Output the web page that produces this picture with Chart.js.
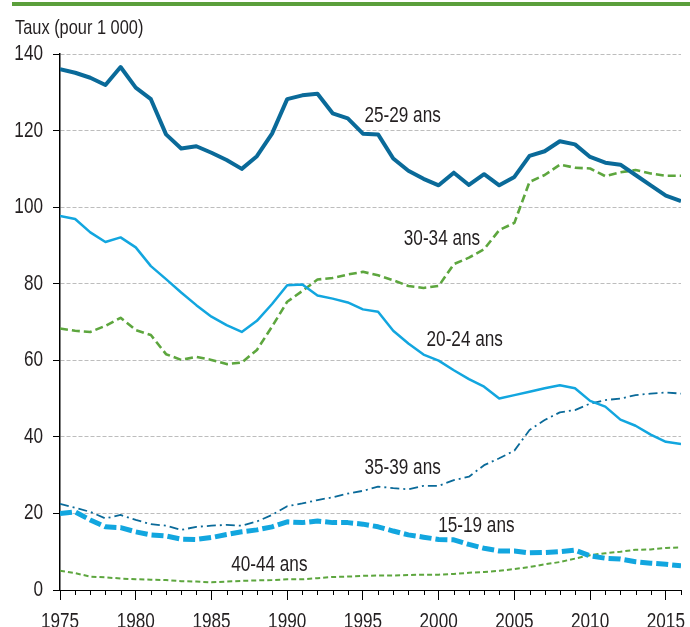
<!DOCTYPE html>
<html>
<head>
<meta charset="utf-8">
<script src="https://cdn.jsdelivr.net/npm/chart.js@4/dist/chart.umd.min.js"></script>
<style>
html,body{margin:0;padding:0;background:#fff;}
#wrap{position:relative;width:690px;height:627px;}
</style>
</head>
<body>
<div id="wrap"><canvas id="c" width="690" height="627"></canvas></div>
<script>
const years = [1975,1976,1977,1978,1979,1980,1981,1982,1983,1984,1985,1986,1987,1988,1989,1990,1991,1992,1993,1994,1995,1996,1997,1998,1999,2000,2001,2002,2003,2004,2005,2006,2007,2008,2009,2010,2011,2012,2013,2014,2015,2016];

const r1519 = [20.0,20.4,18.3,16.5,16.3,15.2,14.4,14.1,13.3,13.2, 13.7,14.5,15.2,15.7,16.5,17.8,17.6,18.0,17.6,17.6, 17.2,16.5,15.4,14.4,13.8,13.2,13.1,11.9,10.9,10.2, 10.2,9.7,9.8,10.0,10.4,8.9,8.3,8.1,7.4,7.0, 6.7,6.3];
const r2024 = [97.7,96.9,93.4,90.9,92.1,89.5,84.6,81.2,77.7,74.4, 71.4,69.2,67.4,70.3,74.7,79.6,79.8,76.9,76.1,75.1, 73.3,72.7,67.7,64.4,61.5,59.9,57.4,55.1,53.1,50.0, 50.9,51.8,52.7,53.5,52.7,49.4,47.9,44.5,42.9,40.6, 38.7,38.1];
const r2529 = [136.0,135.1,133.8,131.9,136.6,131.2,128.2,119.0,115.3,115.9, 114.2,112.3,110.0,113.3,119.2,128.2,129.2,129.6,124.5,123.2, 119.2,119.0,112.7,109.5,107.4,105.7,109.0,105.8,108.6,105.7, 107.9,113.4,114.6,117.2,116.4,113.1,111.6,111.1,108.4,105.7, 103.0,101.6];
const r3034 = [68.3,67.7,67.4,69.0,71.1,67.9,66.6,61.6,60.1,60.9, 60.1,59.0,59.4,62.7,68.8,75.3,78.1,81.1,81.5,82.4, 83.1,82.2,80.9,79.4,78.9,79.4,85.1,86.8,89.0,94.0, 95.9,106.6,108.4,111.1,110.3,110.1,108.1,109.1,109.7,108.8, 108.2,108.2];
const r3539 = [22.5,21.5,20.4,18.7,19.6,18.3,17.2,16.8,15.7,16.5, 16.8,17.0,16.8,17.9,19.6,21.9,22.6,23.5,24.2,25.2, 25.9,27.0,26.6,26.3,27.2,27.2,28.7,29.6,32.6,34.4, 36.4,41.8,44.4,46.4,47.0,48.7,49.6,50.0,50.9,51.3, 51.6,51.3];
const r4044 = [5.0,4.4,3.5,3.3,3.0,2.8,2.7,2.6,2.3,2.2, 2.0,2.2,2.4,2.5,2.6,2.8,2.8,3.1,3.4,3.5, 3.7,3.8,3.8,3.9,4.0,4.0,4.2,4.5,4.7,5.0, 5.5,6.0,6.7,7.3,8.2,9.1,9.6,10.0,10.5,10.6, 11.0,11.1];

const yTicks = [0,20,40,60,80,100,120,140];
const xTickLabels = [1975,1980,1985,1990,1995,2000,2005,2010,2015];
const axisTitle = "Taux (pour 1 000)";

const seriesLabels = ["25-29 ans","30-34 ans","20-24 ans","35-39 ans","15-19 ans","40-44 ans"];
const labelYears   = [1995.1, 1997.7, 1999.2, 1995.1, 1999.97, 1986.3];
const labelValues  = [123.8, 91.6, 65.3, 31.9, 16.7, 6.5];

const FONT = "'Liberation Sans',Arial,sans-serif";
const TXT = '#231f20';
const DARK = '#0a6a99';
const LIGHT = '#12a6df';
const GREEN = '#5da63e';

// condensed rendering of all canvas text (the reference uses a condensed face)
const SX = 0.78;
const origFill = CanvasRenderingContext2D.prototype.fillText;
CanvasRenderingContext2D.prototype.fillText = function(t, x, y, mw){
  this.save();
  this.translate(x, y);
  this.scale(SX, 1);
  origFill.call(this, t, 0, 0);
  this.restore();
};

function pts(arr){ return arr.map((v,i)=>({x:years[i], y:v})); }

const decor = {
  id:'decor',
  beforeDraw(chart){
    const ctx = chart.ctx;
    ctx.save();
    ctx.fillStyle = '#5b9f3b';
    ctx.fillRect(12, 2, 678, 4);
    ctx.fillStyle = TXT;
    ctx.font = "21px " + FONT;
    ctx.textAlign = 'left';
    ctx.textBaseline = 'middle';
    ctx.fillText(axisTitle, chart.chartArea.left - 45, 28);
    ctx.restore();
  },
  afterDraw(chart){
    const ctx = chart.ctx;
    const xs = chart.scales.x;
    const bottom = chart.chartArea.bottom;
    ctx.save();
    ctx.strokeStyle = '#000';
    ctx.lineWidth = 1;
    years.forEach(y=>{
      if (y % 5 !== 0) {
        const px = Math.round(xs.getPixelForValue(y)) + 0.5;
        ctx.beginPath();
        ctx.moveTo(px, bottom);
        ctx.lineTo(px, bottom + 5);
        ctx.stroke();
      }
    });
    ctx.restore();
  },
  afterDatasetsDraw(chart){
    const ctx = chart.ctx;
    const xs = chart.scales.x, ys = chart.scales.y;
    ctx.save();
    ctx.fillStyle = TXT;
    ctx.font = "22px " + FONT;
    ctx.textAlign = 'left';
    ctx.textBaseline = 'middle';
    seriesLabels.forEach((t,i)=>{
      ctx.fillText(t, xs.getPixelForValue(labelYears[i]), ys.getPixelForValue(labelValues[i]));
    });
    ctx.restore();
  }
};

new Chart(document.getElementById('c'), {
  type:'line',
  data:{
    datasets:[
      {label:'25-29 ans', data:pts(r2529), borderColor:DARK, borderWidth:4},
      {label:'20-24 ans', data:pts(r2024), borderColor:LIGHT, borderWidth:2.5},
      {label:'30-34 ans', data:pts(r3034), borderColor:GREEN, borderWidth:2.6, borderDash:[8,4]},
      {label:'35-39 ans', data:pts(r3539), borderColor:DARK, borderWidth:1.8, borderDash:[9,4,2,4]},
      {label:'15-19 ans', data:pts(r1519), borderColor:LIGHT, borderWidth:5, borderDash:[12,4]},
      {label:'40-44 ans', data:pts(r4044), borderColor:GREEN, borderWidth:2, borderDash:[5,3]}
    ]
  },
  options:{
    responsive:false,
    animation:false,
    events:[],
    elements:{point:{radius:0}, line:{tension:0, fill:false, borderCapStyle:'butt', borderJoinStyle:'round'}},
    layout:{padding:{top:54, right:4, left:0, bottom:0}},
    plugins:{legend:{display:false}, tooltip:{enabled:false}, title:{display:false}},
    scales:{
      x:{
        type:'linear', min:1975, max:2016,
        afterFit(s){ s.height = 37; },
        afterBuildTicks(s){ s.ticks = years.map(v=>({value:v})); },
        ticks:{
          autoSkip:false, maxRotation:0, padding:9,
          color:TXT, font:{family:FONT, size:22},
          callback:(v)=> xTickLabels.includes(v) ? String(v) : ''
        },
        grid:{drawOnChartArea:false, tickLength:10, tickWidth:1,
              tickColor:(c)=> (c.tick && c.tick.value % 5 === 0) ? '#000' : 'rgba(0,0,0,0)'},
        border:{color:'#000', width:1}
      },
      y:{
        min:0, max:140,
        afterFit(s){ s.width = 60; },
        afterBuildTicks(s){ s.ticks = yTicks.map(v=>({value:v})); },
        ticks:{padding:10, color:TXT, font:{family:FONT, size:22}},
        grid:{color:(c)=> (c.tick && c.tick.value === 0) ? 'rgba(0,0,0,0)' : '#bdbdbd',
              lineWidth:1, tickColor:'#000', tickLength:7},
        border:{color:'#000', width:1.5, dash:[4,2]}
      }
    }
  },
  plugins:[decor]
});
</script>
</body>
</html>
